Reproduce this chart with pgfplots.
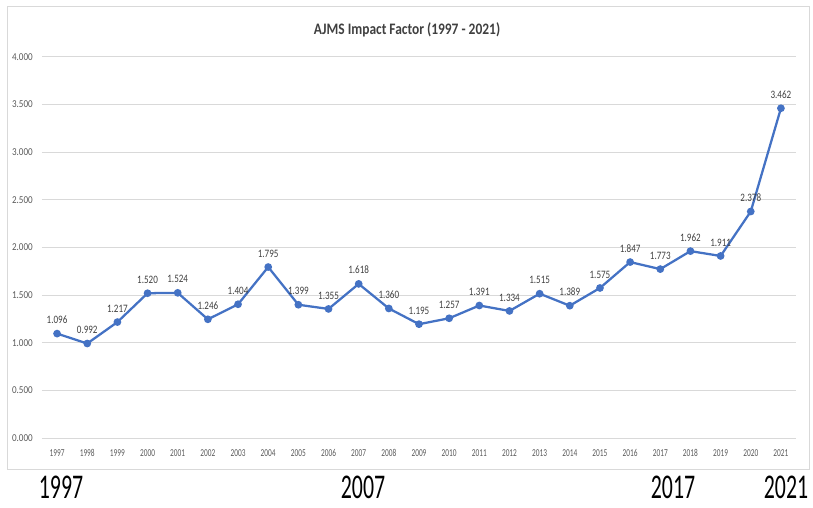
\documentclass[border=0pt]{standalone}
\usepackage{fontspec}
\usepackage{pgfplots}
\pgfplotsset{compat=1.18}
\setmainfont{Carlito}
\newfontfamily\narrowfont[FakeStretch=0.70]{Carlito}
\newfontfamily\yfont[FakeStretch=0.86]{Carlito}
\newfontfamily\labfont[FakeStretch=0.80]{Carlito}
\newfontfamily\titlefont[FakeStretch=0.84]{Carlito}
\newfontfamily\bignarrow[FakeStretch=0.63]{Carlito}
\definecolor{linecol}{HTML}{4472C4}
\definecolor{gridcol}{HTML}{D9D9D9}
\definecolor{tickcol}{HTML}{595959}
\definecolor{labcol}{HTML}{404040}
\pgfplotstableread{
x v
0 1.096
1 0.992
2 1.217
3 1.520
4 1.524
5 1.246
6 1.404
7 1.795
8 1.399
9 1.355
10 1.618
11 1.360
12 1.195
13 1.257
14 1.391
15 1.334
16 1.515
17 1.389
18 1.575
19 1.847
20 1.773
21 1.962
22 1.911
23 2.378
24 3.462
}\datatable
\begin{document}
\begin{tikzpicture}[x=0.75pt,y=0.75pt]
\path (0,0) rectangle (813,507);
\draw[gridcol, line width=0.75pt] (7,38) rectangle (809,500);
\node[font=\titlefont\bfseries\fontsize{12}{14}\selectfont, text=labcol] at (407,477) {AJMS Impact Factor (1997 - 2021)};
\begin{axis}[
  at={(31.5pt,51.75pt)}, anchor=south west,
  scale only axis, width=565.5pt, height=285.75pt,
  xmin=-0.5, xmax=24.5, ymin=0, ymax=4,
  xtick={0,...,24},
  xticklabels={1997,1998,1999,2000,2001,2002,2003,2004,2005,2006,2007,2008,2009,2010,2011,2012,2013,2014,2015,2016,2017,2018,2019,2020,2021},
  ytick={0,0.5,...,4},
  /pgf/number format/assume math mode=true,
  yticklabel style={/pgf/number format/fixed, /pgf/number format/fixed zerofill, /pgf/number format/precision=3},
  ymajorgrids, grid style={gridcol, line width=0.75pt},
  axis line style={draw=none},
  major tick length=0pt,
  tick label style={text=tickcol, inner sep=0pt},
  xticklabel style={font=\narrowfont\fontsize{7.9}{9}\selectfont, anchor=north, yshift=-8.25pt},
  yticklabel style={font=\yfont\fontsize{7.9}{9}\selectfont, anchor=east, xshift=-6.75pt},
  clip=false,
]
\addplot[linecol, line width=1.7pt, mark=*, mark size=2pt, mark options={fill=linecol, draw=linecol},
  nodes near coords,
  point meta=explicit,
  every node near coord/.append style={font=\labfont\fontsize{8.5}{10}\selectfont, text=labcol, anchor=south, inner sep=0pt, yshift=6.5pt, /pgf/number format/fixed, /pgf/number format/fixed zerofill, /pgf/number format/precision=3, /pgf/number format/assume math mode=true},
] table[x=x, y=v, meta=v] {\datatable};
\end{axis}
\tikzset{big/.style={font=\bignarrow\fontsize{26}{30}\selectfont, text=black, inner sep=0pt, anchor=base}}
\node[big] at (61,9) {1997};
\node[big] at (363,9) {2007};
\node[big] at (673,9) {2017};
\node[big] at (786,9) {2021};
\end{tikzpicture}
\end{document}
